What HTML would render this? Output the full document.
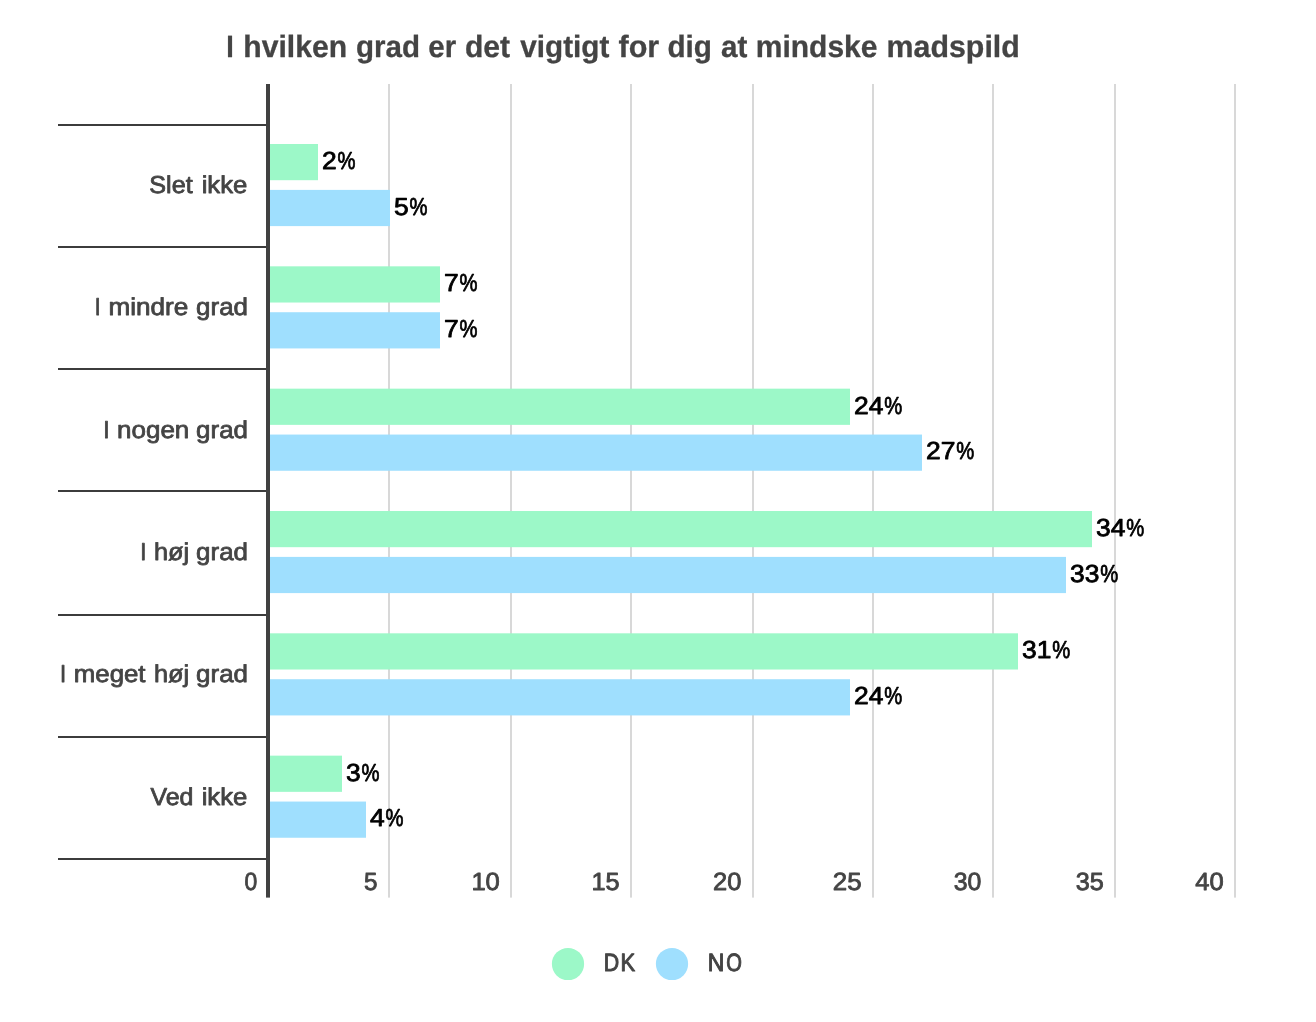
<!DOCTYPE html>
<html lang="da"><head><meta charset="utf-8"><title>I hvilken grad er det vigtigt for dig at mindske madspild</title>
<style>html,body{margin:0;padding:0;background:#fff}svg{display:block}text{font-family:'Liberation Sans', sans-serif;white-space:pre;text-rendering:geometricPrecision}</style></head><body>
<svg width="1316" height="1022" viewBox="0 0 1316 1022">
<rect width="1316" height="1022" fill="#ffffff"/>
<g fill="#d8d8d8">
<rect x="388.00" y="84" width="2" height="813.60"/>
<rect x="510.00" y="84" width="2" height="813.60"/>
<rect x="630.00" y="84" width="2" height="813.60"/>
<rect x="752.00" y="84" width="2" height="813.60"/>
<rect x="872.00" y="84" width="2" height="813.60"/>
<rect x="992.00" y="84" width="2" height="813.60"/>
<rect x="1114.00" y="84" width="2" height="813.60"/>
<rect x="1234.00" y="84" width="2" height="813.60"/>
</g>
<g fill="#3c3c3c">
<rect x="58" y="124" width="209" height="2"/>
<rect x="58" y="246" width="209" height="2"/>
<rect x="58" y="368" width="209" height="2"/>
<rect x="58" y="490" width="209" height="2"/>
<rect x="58" y="614" width="209" height="2"/>
<rect x="58" y="736" width="209" height="2"/>
<rect x="58" y="858" width="209" height="2"/>
</g>
<g fill="#9cf8c8">
<rect x="269.5" y="144.00" width="48.50" height="36.2"/>
<rect x="269.5" y="266.33" width="170.50" height="36.2"/>
<rect x="269.5" y="388.66" width="580.50" height="36.2"/>
<rect x="269.5" y="510.99" width="822.50" height="36.2"/>
<rect x="269.5" y="633.32" width="748.50" height="36.2"/>
<rect x="269.5" y="755.65" width="72.50" height="36.2"/>
</g>
<g fill="#9fdffe">
<rect x="269.5" y="189.90" width="120.50" height="36.2"/>
<rect x="269.5" y="312.23" width="170.50" height="36.2"/>
<rect x="269.5" y="434.56" width="652.50" height="36.2"/>
<rect x="269.5" y="556.89" width="796.50" height="36.2"/>
<rect x="269.5" y="679.22" width="580.50" height="36.2"/>
<rect x="269.5" y="801.55" width="96.50" height="36.2"/>
</g>
<rect x="266" y="84" width="4" height="813.60" fill="#414141"/>
<circle cx="568" cy="964" r="16.1" fill="#9cf8c8"/>
<circle cx="672" cy="964" r="16.1" fill="#9fdffe"/>
<text y="57.20" font-size="30.8" fill="#444444" font-weight="bold" stroke="#444444" stroke-width="0.3" stroke-linejoin="round"><tspan x="226.29" textLength="7.53" lengthAdjust="spacingAndGlyphs">I</tspan> <tspan x="243.30" textLength="103.73" lengthAdjust="spacingAndGlyphs">hvilken</tspan> <tspan x="355.99" textLength="64.00" lengthAdjust="spacingAndGlyphs">grad</tspan> <tspan x="428.29" textLength="27.84" lengthAdjust="spacingAndGlyphs">er</tspan> <tspan x="464.97" textLength="45.13" lengthAdjust="spacingAndGlyphs">det</tspan> <tspan x="520.25" textLength="89.05" lengthAdjust="spacingAndGlyphs">vigtigt</tspan> <tspan x="618.45" textLength="40.79" lengthAdjust="spacingAndGlyphs">for</tspan> <tspan x="667.49" textLength="44.51" lengthAdjust="spacingAndGlyphs">dig</tspan> <tspan x="720.95" textLength="26.35" lengthAdjust="spacingAndGlyphs">at</tspan> <tspan x="755.80" textLength="121.67" lengthAdjust="spacingAndGlyphs">mindske</tspan> <tspan x="886.58" textLength="133.26" lengthAdjust="spacingAndGlyphs">madspild</tspan></text>
<text y="192.90" font-size="24.4" fill="#444444" stroke="#444444" stroke-width="0.8" stroke-linejoin="round"><tspan x="149.37" textLength="43.30" lengthAdjust="spacingAndGlyphs">Slet</tspan> <tspan x="201.65" textLength="45.65" lengthAdjust="spacingAndGlyphs">ikke</tspan></text>
<text y="315.23" font-size="24.4" fill="#444444" stroke="#444444" stroke-width="0.8" stroke-linejoin="round"><tspan x="94.67" textLength="5.87" lengthAdjust="spacingAndGlyphs">I</tspan> <tspan x="108.43" textLength="79.77" lengthAdjust="spacingAndGlyphs">mindre</tspan> <tspan x="196.14" textLength="51.82" lengthAdjust="spacingAndGlyphs">grad</tspan></text>
<text y="437.56" font-size="24.4" fill="#444444" stroke="#444444" stroke-width="0.8" stroke-linejoin="round"><tspan x="103.33" textLength="6.32" lengthAdjust="spacingAndGlyphs">I</tspan> <tspan x="117.14" textLength="72.13" lengthAdjust="spacingAndGlyphs">nogen</tspan> <tspan x="196.14" textLength="51.82" lengthAdjust="spacingAndGlyphs">grad</tspan></text>
<text y="559.89" font-size="24.4" fill="#444444" stroke="#444444" stroke-width="0.8" stroke-linejoin="round"><tspan x="140.30" textLength="6.10" lengthAdjust="spacingAndGlyphs">I</tspan> <tspan x="153.96" textLength="35.11" lengthAdjust="spacingAndGlyphs">høj</tspan> <tspan x="196.14" textLength="51.82" lengthAdjust="spacingAndGlyphs">grad</tspan></text>
<text y="682.22" font-size="24.4" fill="#444444" stroke="#444444" stroke-width="0.8" stroke-linejoin="round"><tspan x="60.00" textLength="6.10" lengthAdjust="spacingAndGlyphs">I</tspan> <tspan x="73.84" textLength="71.72" lengthAdjust="spacingAndGlyphs">meget</tspan> <tspan x="153.96" textLength="35.11" lengthAdjust="spacingAndGlyphs">høj</tspan> <tspan x="196.14" textLength="51.82" lengthAdjust="spacingAndGlyphs">grad</tspan></text>
<text y="804.55" font-size="24.4" fill="#444444" stroke="#444444" stroke-width="0.8" stroke-linejoin="round"><tspan x="150.40" textLength="43.00" lengthAdjust="spacingAndGlyphs">Ved</tspan> <tspan x="201.65" textLength="45.65" lengthAdjust="spacingAndGlyphs">ikke</tspan></text>
<text y="168.90" font-size="24.6" fill="#000000" stroke="#000000" stroke-width="0.8" stroke-linejoin="round"><tspan x="322.00" textLength="14.70" lengthAdjust="spacingAndGlyphs">2</tspan><tspan x="337.60" textLength="18.01" lengthAdjust="spacingAndGlyphs">%</tspan></text>
<text y="214.80" font-size="24.6" fill="#000000" stroke="#000000" stroke-width="0.8" stroke-linejoin="round"><tspan x="394.00" textLength="14.70" lengthAdjust="spacingAndGlyphs">5</tspan><tspan x="409.60" textLength="18.01" lengthAdjust="spacingAndGlyphs">%</tspan></text>
<text y="291.23" font-size="24.6" fill="#000000" stroke="#000000" stroke-width="0.8" stroke-linejoin="round"><tspan x="444.00" textLength="14.70" lengthAdjust="spacingAndGlyphs">7</tspan><tspan x="459.60" textLength="18.01" lengthAdjust="spacingAndGlyphs">%</tspan></text>
<text y="337.13" font-size="24.6" fill="#000000" stroke="#000000" stroke-width="0.8" stroke-linejoin="round"><tspan x="444.00" textLength="14.70" lengthAdjust="spacingAndGlyphs">7</tspan><tspan x="459.60" textLength="18.01" lengthAdjust="spacingAndGlyphs">%</tspan></text>
<text y="413.56" font-size="24.6" fill="#000000" stroke="#000000" stroke-width="0.8" stroke-linejoin="round"><tspan x="854.00" textLength="29.40" lengthAdjust="spacingAndGlyphs">24</tspan><tspan x="884.30" textLength="18.01" lengthAdjust="spacingAndGlyphs">%</tspan></text>
<text y="459.46" font-size="24.6" fill="#000000" stroke="#000000" stroke-width="0.8" stroke-linejoin="round"><tspan x="926.00" textLength="29.40" lengthAdjust="spacingAndGlyphs">27</tspan><tspan x="956.30" textLength="18.01" lengthAdjust="spacingAndGlyphs">%</tspan></text>
<text y="535.89" font-size="24.6" fill="#000000" stroke="#000000" stroke-width="0.8" stroke-linejoin="round"><tspan x="1096.00" textLength="29.40" lengthAdjust="spacingAndGlyphs">34</tspan><tspan x="1126.30" textLength="18.01" lengthAdjust="spacingAndGlyphs">%</tspan></text>
<text y="581.79" font-size="24.6" fill="#000000" stroke="#000000" stroke-width="0.8" stroke-linejoin="round"><tspan x="1070.00" textLength="29.40" lengthAdjust="spacingAndGlyphs">33</tspan><tspan x="1100.30" textLength="18.01" lengthAdjust="spacingAndGlyphs">%</tspan></text>
<text y="658.22" font-size="24.6" fill="#000000" stroke="#000000" stroke-width="0.8" stroke-linejoin="round"><tspan x="1022.00" textLength="29.40" lengthAdjust="spacingAndGlyphs">31</tspan><tspan x="1052.30" textLength="18.01" lengthAdjust="spacingAndGlyphs">%</tspan></text>
<text y="704.12" font-size="24.6" fill="#000000" stroke="#000000" stroke-width="0.8" stroke-linejoin="round"><tspan x="854.00" textLength="29.40" lengthAdjust="spacingAndGlyphs">24</tspan><tspan x="884.30" textLength="18.01" lengthAdjust="spacingAndGlyphs">%</tspan></text>
<text y="780.55" font-size="24.6" fill="#000000" stroke="#000000" stroke-width="0.8" stroke-linejoin="round"><tspan x="346.00" textLength="14.70" lengthAdjust="spacingAndGlyphs">3</tspan><tspan x="361.60" textLength="18.01" lengthAdjust="spacingAndGlyphs">%</tspan></text>
<text y="826.45" font-size="24.6" fill="#000000" stroke="#000000" stroke-width="0.8" stroke-linejoin="round"><tspan x="370.00" textLength="14.70" lengthAdjust="spacingAndGlyphs">4</tspan><tspan x="385.60" textLength="18.01" lengthAdjust="spacingAndGlyphs">%</tspan></text>
<text x="244.53" y="890.45" font-size="24.9" fill="#444444" stroke="#444444" stroke-width="0.85" stroke-linejoin="round" textLength="12.72" lengthAdjust="spacingAndGlyphs">0</text>
<text x="363.95" y="890.45" font-size="24.9" fill="#444444" stroke="#444444" stroke-width="0.85" stroke-linejoin="round" textLength="13.44" lengthAdjust="spacingAndGlyphs">5</text>
<text x="471.40" y="890.45" font-size="24.9" fill="#444444" stroke="#444444" stroke-width="0.85" stroke-linejoin="round" textLength="28.44" lengthAdjust="spacingAndGlyphs">10</text>
<text x="591.51" y="890.45" font-size="24.9" fill="#444444" stroke="#444444" stroke-width="0.85" stroke-linejoin="round" textLength="28.12" lengthAdjust="spacingAndGlyphs">15</text>
<text x="713.00" y="890.45" font-size="24.9" fill="#444444" stroke="#444444" stroke-width="0.85" stroke-linejoin="round" textLength="28.34" lengthAdjust="spacingAndGlyphs">20</text>
<text x="832.89" y="890.45" font-size="24.9" fill="#444444" stroke="#444444" stroke-width="0.85" stroke-linejoin="round" textLength="28.76" lengthAdjust="spacingAndGlyphs">25</text>
<text x="953.72" y="890.45" font-size="24.9" fill="#444444" stroke="#444444" stroke-width="0.85" stroke-linejoin="round" textLength="27.59" lengthAdjust="spacingAndGlyphs">30</text>
<text x="1075.72" y="890.45" font-size="24.9" fill="#444444" stroke="#444444" stroke-width="0.85" stroke-linejoin="round" textLength="28.00" lengthAdjust="spacingAndGlyphs">35</text>
<text x="1195.33" y="890.45" font-size="24.9" fill="#444444" stroke="#444444" stroke-width="0.85" stroke-linejoin="round" textLength="28.42" lengthAdjust="spacingAndGlyphs">40</text>
<text y="971.00" font-size="25" fill="#444444" stroke="#444444" stroke-width="1.0" stroke-linejoin="round"><tspan x="603.79" textLength="15.41" lengthAdjust="spacingAndGlyphs">D</tspan><tspan x="620.44" textLength="14.67" lengthAdjust="spacingAndGlyphs">K</tspan></text>
<text y="971.00" font-size="25" fill="#444444" stroke="#444444" stroke-width="1.0" stroke-linejoin="round"><tspan x="707.76" textLength="16.61" lengthAdjust="spacingAndGlyphs">N</tspan><tspan x="726.29" textLength="15.66" lengthAdjust="spacingAndGlyphs">O</tspan></text>
</svg></body></html>
